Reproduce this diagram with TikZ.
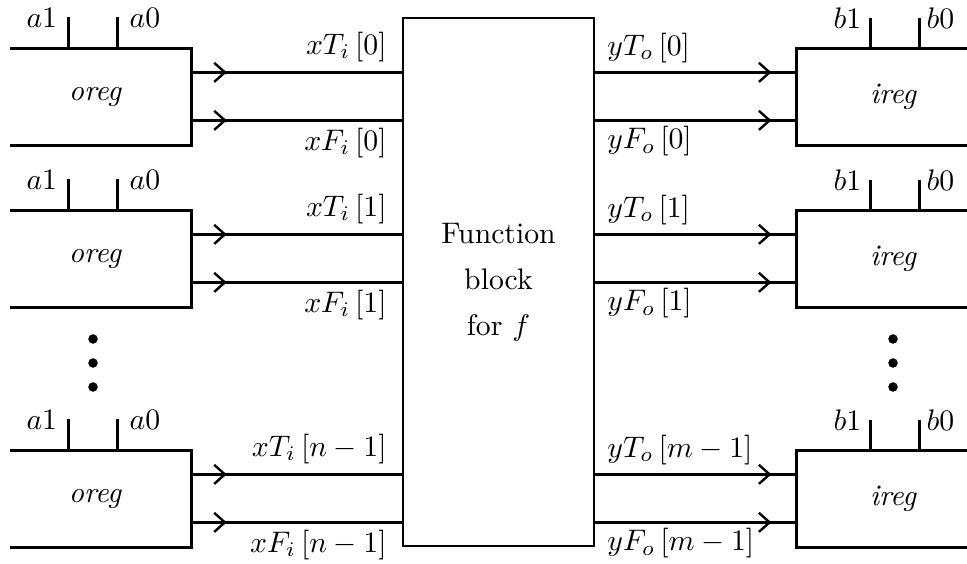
\documentclass[tikz,border=0pt]{standalone}
\usepackage{amsmath}
\usepackage{tikz}
\usetikzlibrary{arrows.meta,decorations.markings,calc}

\begin{document}
\begin{tikzpicture}[
  x=0.01183cm,y=-0.01183cm,
  wire/.style={line width=0.8pt},
  obox/.style={rectangle,inner sep=0pt,minimum width=2.129cm,minimum height=1.136cm},
  ibox/.style={rectangle,inner sep=0pt,minimum width=2.011cm,minimum height=1.136cm},
  fblk/.style={rectangle,draw,line width=0.8pt,inner sep=0pt,
               minimum width=2.26cm,minimum height=6.246cm,align=center,
               font={\fontsize{10}{15.5}\selectfont}},
  lbl/.style={inner sep=0pt,font=\normalsize},
  barb/.tip={Straight Barb[length=3.6pt,width=6.4pt]},
  lsig/.style={wire,postaction={decorate},
    decoration={markings,mark=at position 11.8pt with {\arrow{barb}}}},
  rsig/.style={wire,postaction={decorate},
    decoration={markings,mark=at position -8.4pt with {\arrow{barb}}}},
]
\useasboundingbox (0,0) rectangle (967,564);

\node[fblk] (fb) at (498.5,282) {Function\\block\\for $f$};

% oreg side
\foreach \row/\yc/\ix in {0/97/0,1/259/1,2/499/n-1}{
  \node[obox] (o\row) at (101,\yc) {};
  \node[lbl,font=\itshape] (on\row) at ($(o\row.center)+(-6,0)$) {oreg};
  \draw[wire] (o\row.north west) -- (o\row.north east) -- (o\row.south east) -- (o\row.south west);
  \draw[wire] ($(o\row.north west)+(58,0)$) -- ++(0,-31)
    node[lbl,anchor=base east,xshift=-3.4pt,yshift=-3.4pt] (a1\row) {$a1$};
  \draw[wire] ($(o\row.north west)+(107,0)$) -- ++(0,-31)
    node[lbl,anchor=base west,xshift=3.7pt,yshift=-3.4pt] (a0\row) {$a0$};
  \coordinate (oT\row) at ($(o\row.north east)+(0,24)$);
  \coordinate (oF\row) at ($(o\row.north east)+(0,72)$);
  \draw[lsig] (oT\row) -- (oT\row -| fb.west)
    node[lbl,anchor=base east,xshift=-4.7pt,yshift=6pt] (xt\row) {$xT_i$\,[$\ix$]};
  \draw[lsig] (oF\row) -- (oF\row -| fb.west)
    node[lbl,anchor=base east,xshift=-4.7pt,yshift=-10pt] (xf\row) {$xF_i$\,[$\ix$]};
}

% ireg side
\foreach \row/\yc/\ix in {0/97/0,1/259/1,2/499/m-1}{
  \node[ibox] (i\row) at (882,\yc) {};
  \node[lbl,font=\itshape] (in\row) at ($(i\row.center)+(11,0)$) {ireg};
  \draw[wire] (i\row.north east) -- (i\row.north west) -- (i\row.south west) -- (i\row.south east);
  \draw[wire] ($(i\row.north west)+(74,0)$) -- ++(0,-30)
    node[lbl,anchor=base east,xshift=-2.7pt,yshift=-3.4pt] (b1\row) {$b1$};
  \draw[wire] ($(i\row.north west)+(123,0)$) -- ++(0,-30)
    node[lbl,anchor=base west,xshift=2pt,yshift=-3.4pt] (b0\row) {$b0$};
  \coordinate (iT\row) at ($(i\row.north west)+(0,24)$);
  \coordinate (iF\row) at ($(i\row.north west)+(0,72)$);
  \draw[rsig] (iT\row -| fb.east) -- (iT\row)
    node[pos=0,lbl,anchor=base west,xshift=3.7pt,yshift=5.8pt] (yt\row) {$yT_o$\,[$\ix$]};
  \draw[rsig] (iF\row -| fb.east) -- (iF\row)
    node[pos=0,lbl,anchor=base west,xshift=3.7pt,yshift=-9.5pt] (yf\row) {$yF_o$\,[$\ix$]};
}

\foreach \yy in {339,363,387}{
  \fill (93,\yy) circle (1.6pt);
  \fill (893,\yy) circle (1.6pt);
}
\end{tikzpicture}
\end{document}
